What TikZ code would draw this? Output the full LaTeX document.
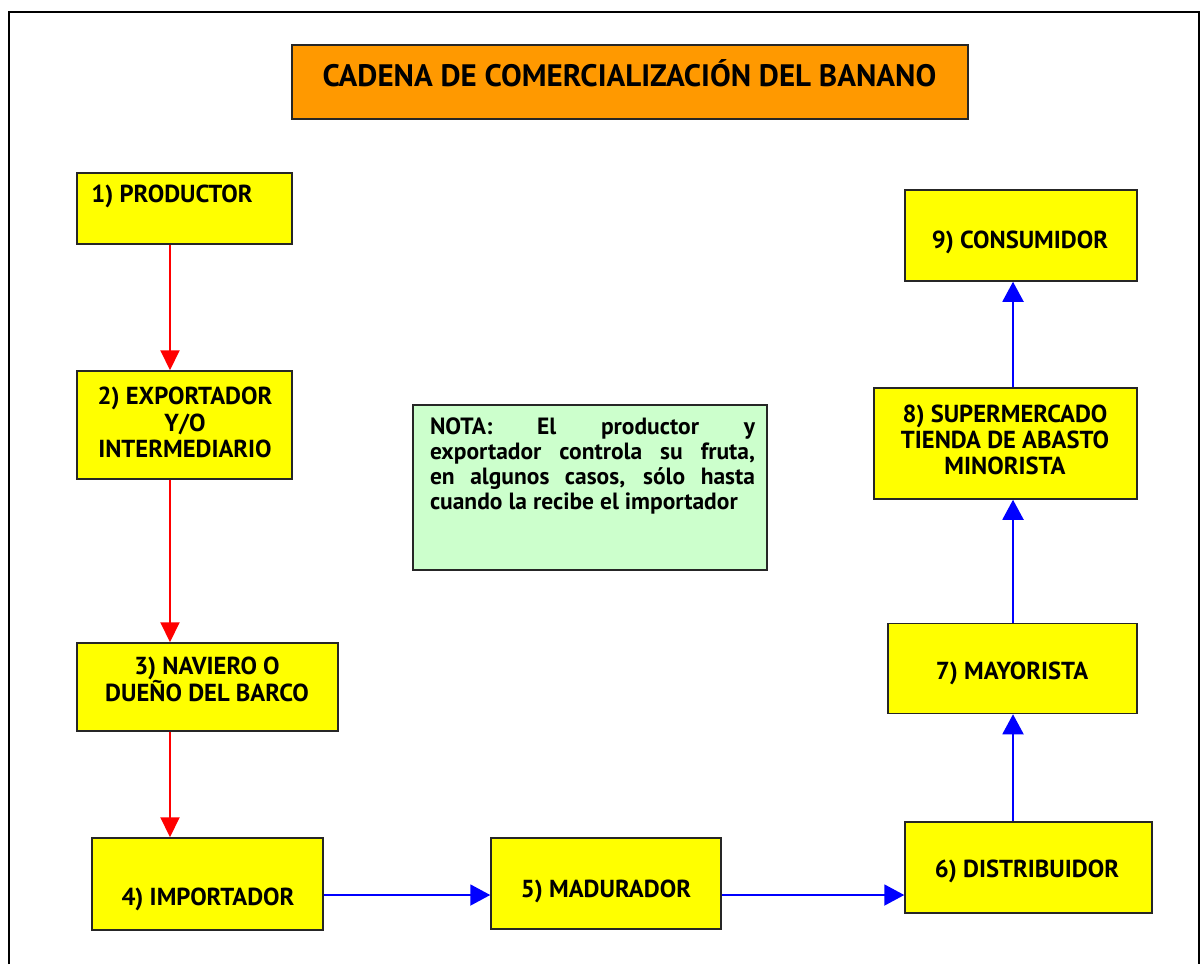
\documentclass[tikz,border=0pt]{standalone}
\usepackage{fontspec}
\setmainfont{PT Sans}
\usetikzlibrary{arrows.meta}
\definecolor{boxyellow}{HTML}{FFFF00}
\definecolor{titleorange}{HTML}{FF9900}
\definecolor{notegreen}{HTML}{CCFFCC}
\begin{document}
\begin{tikzpicture}[x=1pt,y=-1pt,
  box/.style={draw=black!85, line width=1.5pt, fill=boxyellow, inner sep=0pt},
  lbl/.style={font=\bfseries\fontsize{24.6}{26.3}\selectfont, align=center, inner sep=0pt},
  redarr/.style={draw=red, line width=2pt, -{Triangle[length=20pt,width=19pt]}},
  bluearr/.style={draw=blue, line width=2pt, -{Triangle[length=20pt,width=21pt]}}
]
\useasboundingbox (0,0) rectangle (1201,964);
\draw[line width=2.5pt] (9,964) -- (9,12) -- (1199,12) -- (1199,964);

% title
\node[box, fill=titleorange, minimum width=676pt, minimum height=74pt] (title) at (630,82) {};
\node[lbl, font=\bfseries\fontsize{31}{34}\selectfont] (titletxt) at (629.5,73) {CADENA DE COMERCIALIZACIÓN DEL BANANO};

% boxes
\node[box, minimum width=215pt, minimum height=71pt] (n1) at (184.5,208.5) {};
\node[box, minimum width=215pt, minimum height=108pt] (n2) at (184.5,425) {};
\node[box, minimum width=261pt, minimum height=88pt] (n3) at (207.5,687) {};
\node[box, minimum width=231pt, minimum height=92pt] (n4) at (207.5,884) {};
\node[box, minimum width=230pt, minimum height=91pt] (n5) at (606,883.5) {};
\node[box, minimum width=247pt, minimum height=91pt] (n6) at (1028.5,867.5) {};
\node[box, minimum width=249pt, minimum height=90pt] (n7) at (1012.5,668.5) {};
\node[box, minimum width=263pt, minimum height=111pt] (n8) at (1005.5,443.5) {};
\node[box, minimum width=232pt, minimum height=91pt] (n9) at (1021,235.5) {};

% note
\node[draw=black!85, line width=1.5pt, fill=notegreen, minimum width=354pt, minimum height=165pt, inner sep=0pt] (note) at (590,487.5) {};

% labels
\node[lbl] (t1) at (172,196) {1) PRODUCTOR};
\node[lbl] (t2) at (185,422.5) {2) EXPORTADOR\\Y/O\\INTERMEDIARIO};
\node[lbl] (t3) at (207,679.5) {3) NAVIERO O\\DUEÑO DEL BARCO};
\node[lbl] (t4) at (208,899) {4) IMPORTADOR};
\node[lbl] (t5) at (606,891) {5) MADURADOR};
\node[lbl] (t6) at (1027,871) {6) DISTRIBUIDOR};
\node[lbl] (t7) at (1012,673) {7) MAYORISTA};
\node[lbl] (t8) at (1005,440) {8) SUPERMERCADO\\TIENDA DE ABASTO\\MINORISTA};
\node[lbl] (t9) at (1020,242) {9) CONSUMIDOR};
\node[lbl, align=left, font=\bfseries\fontsize{23.5}{25.3}\selectfont] (notetxt) at (592.5,466) {%
\makebox[325pt][s]{NOTA: El productor y}\\
\makebox[325pt][s]{exportador controla su fruta,}\\
\makebox[325pt][s]{en algunos casos, sólo hasta}\\
\makebox[325pt][l]{cuando la recibe el importador}};

% connector guides
\coordinate (rx) at (170,0);
\coordinate (bx) at (1013,0);
\coordinate (by) at (0,895);

\draw[redarr] (n1.south -| rx) -- (n2.north -| rx);
\draw[redarr] (n2.south -| rx) -- (n3.north -| rx);
\draw[redarr] (n3.south -| rx) -- (n4.north -| rx);
\draw[bluearr] (n4.east |- by) -- (n5.west |- by);
\draw[bluearr] (n5.east |- by) -- (n6.west |- by);
\draw[bluearr] (n6.north -| bx) -- (n7.south -| bx);
\draw[bluearr] (n7.north -| bx) -- (n8.south -| bx);
\draw[bluearr] (n8.north -| bx) -- (n9.south -| bx);
\end{tikzpicture}
\end{document}
